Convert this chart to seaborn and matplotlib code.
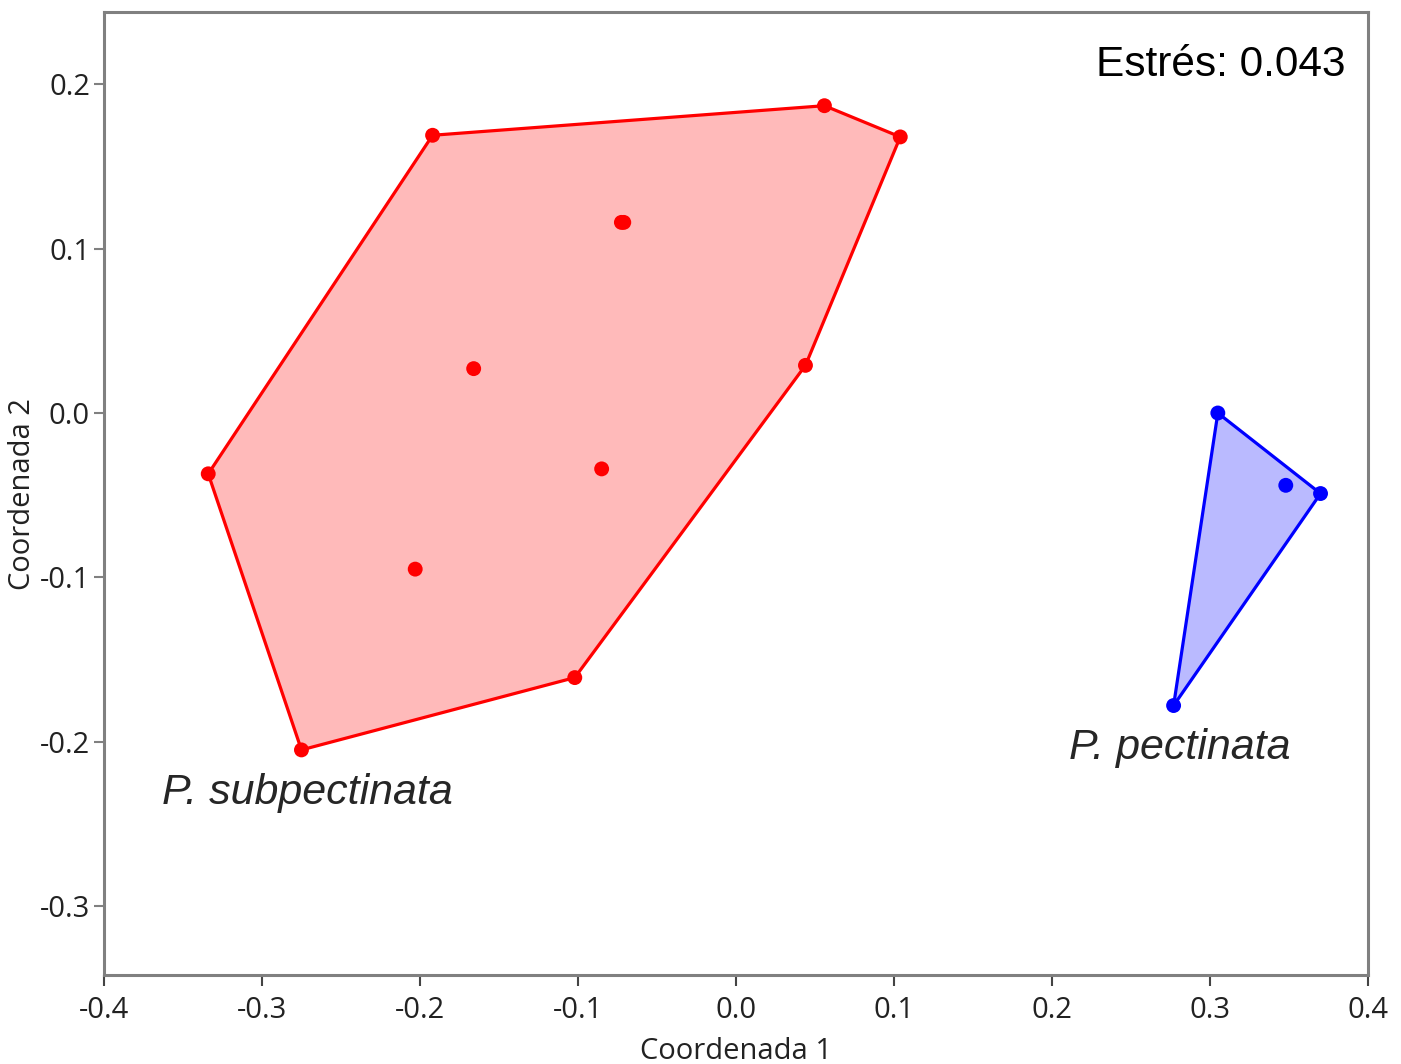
import matplotlib
matplotlib.use("Agg")
import matplotlib.pyplot as plt
import numpy as np
import pandas as pd
import seaborn as sns

# NMDS scores
sub_x = [-0.192, 0.056, 0.104, -0.071, -0.0725, -0.166, 0.044, -0.334, -0.085, -0.203, -0.102, -0.275]
sub_y = [0.169, 0.187, 0.168, 0.116, 0.116, 0.027, 0.029, -0.037, -0.034, -0.095, -0.161, -0.205]
pec_x = [0.305, 0.348, 0.370, 0.277]
pec_y = [0.000, -0.044, -0.049, -0.178]

species = ["P. subpectinata", "P. pectinata"]
colors = {"P. subpectinata": "#ff0000", "P. pectinata": "#0000ff"}
stress = 0.043
xticks = [-0.4, -0.3, -0.2, -0.1, 0.0, 0.1, 0.2, 0.3, 0.4]
yticks = [-0.3, -0.2, -0.1, 0.0, 0.1, 0.2]


def convex_hull(pts):
    pts = sorted(set(pts))
    def cross(o, a, b):
        return (a[0] - o[0]) * (b[1] - o[1]) - (a[1] - o[1]) * (b[0] - o[0])
    lower, upper = [], []
    for p in pts:
        while len(lower) >= 2 and cross(lower[-2], lower[-1], p) <= 0:
            lower.pop()
        lower.append(p)
    for p in reversed(pts):
        while len(upper) >= 2 and cross(upper[-2], upper[-1], p) <= 0:
            upper.pop()
        upper.append(p)
    return lower[:-1] + upper[:-1]


df = pd.DataFrame({
    "x": sub_x + pec_x,
    "y": sub_y + pec_y,
    "species": [species[0]] * len(sub_x) + [species[1]] * len(pec_x),
})

sns.set_style("white")
plt.rcParams["font.family"] = ["Open Sans", "DejaVu Sans"]

fig = plt.figure(figsize=(14.01, 10.64), dpi=100)
ax = fig.add_axes([0.0742, 0.0836, 0.9022, 0.9051])

for sp in species:
    sub = df[df["species"] == sp]
    hull = np.array(convex_hull(list(zip(sub["x"], sub["y"]))))
    ax.fill(hull[:, 0], hull[:, 1], color=colors[sp], alpha=0.27, lw=0, zorder=1)
    closed = np.vstack([hull, hull[:1]])
    ax.plot(closed[:, 0], closed[:, 1], color=colors[sp], lw=2.3, zorder=2)

sns.scatterplot(data=df, x="x", y="y", hue="species", palette=colors,
                s=115, edgecolor="none", legend=False, ax=ax, zorder=3)

ax.set_xlim(-0.4, 0.4)
ax.set_ylim(-0.342, 0.244)
ax.set_xticks(xticks)
ax.set_yticks(yticks)
ax.set_xticklabels([f"{v:.1f}" for v in xticks])
ax.set_yticklabels([f"{v:.1f}" for v in yticks])
ax.tick_params(axis="x", direction="out", length=8, width=1.5, color="#444444",
               labelsize=21, labelcolor="#222222", pad=7, bottom=True)
ax.tick_params(axis="y", direction="out", length=7, width=1.5, color="#808080",
               labelsize=21, labelcolor="#222222", pad=3, left=True)
for s in ax.spines.values():
    s.set_color("#808080")
    s.set_linewidth(2.2)

ax.set_xlabel("Coordenada 1", fontsize=21, color="#222222")
ax.set_ylabel("Coordenada 2", fontsize=21, color="#222222")
ax.xaxis.set_label_coords(0.5, -0.064)
ax.yaxis.set_label_coords(-0.053, 0.5)

ax.text(0.982, 0.945, f"Estrés: {stress}", transform=ax.transAxes, ha="right", va="center",
        fontsize=30.5, family="Liberation Sans", color="black")
ax.text(-0.363, -0.231, species[0], ha="left", va="center", fontsize=31,
        style="italic", family="Liberation Sans")
ax.text(0.211, -0.204, species[1], ha="left", va="center", fontsize=31,
        style="italic", family="Liberation Sans")

fig.savefig("out.png", dpi=100)
